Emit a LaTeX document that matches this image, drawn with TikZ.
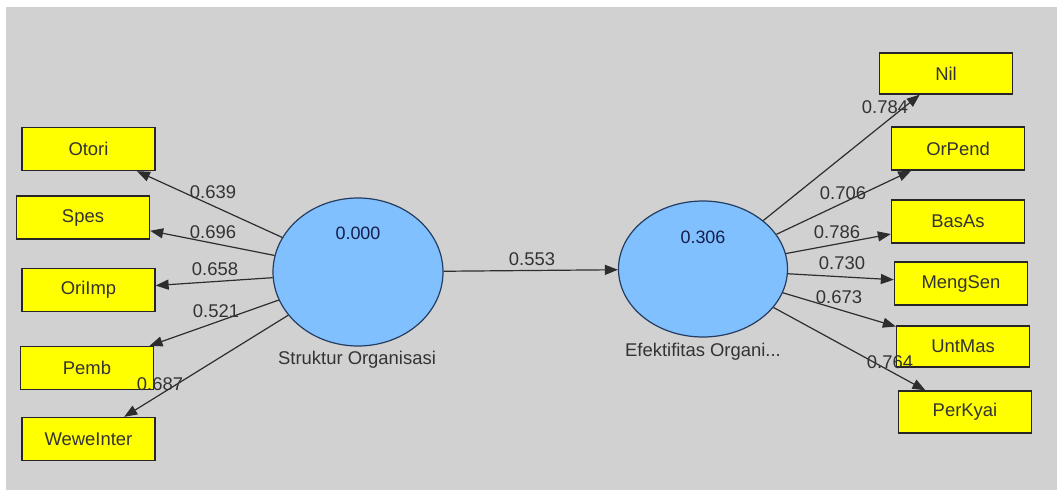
\documentclass[tikz,border=0pt]{standalone}
\usepackage{fontspec}
\setmainfont{Liberation Sans}
\usetikzlibrary{shapes.geometric,arrows.meta}
\definecolor{bggray}{RGB}{209,209,209}
\definecolor{boxyellow}{RGB}{255,255,0}
\definecolor{ellblue}{RGB}{128,192,255}
\definecolor{ellborder}{RGB}{35,60,95}
\definecolor{valnavy}{RGB}{20,30,75}
\definecolor{linegray}{RGB}{45,45,45}
\tikzset{
  indbox/.style={draw=black!85, line width=1.3bp, fill=boxyellow, minimum width=133bp, minimum height=43bp, inner sep=0pt, text=black!80, font=\fontsize{18.5}{20}\selectfont},
  construct/.style={ellipse, draw=ellborder, line width=1.2bp, fill=ellblue, inner sep=0pt},
  loadarrow/.style={draw=linegray, line width=1.2bp, -{Triangle[length=13bp,width=10bp]}},
  coef/.style={font=\fontsize{18.5}{20}\selectfont, text=black!80, inner sep=0pt},
  valtext/.style={font=\fontsize{18}{20}\selectfont, text=valnavy, inner sep=0pt},
  captext/.style={font=\fontsize{18.5}{20}\selectfont, text=black!80, inner sep=0pt}
}
\begin{document}
\begin{tikzpicture}[x=1bp,y=-1bp]
\useasboundingbox (0,0) rectangle (1057,490);
\fill[bggray] (6,7) rectangle (1057,490);
% constructs
\node[construct, minimum width=170bp, minimum height=148bp] (so) at (358,272) {};
\node[construct, minimum width=169bp, minimum height=136bp] (eo) at (703,269) {};
\node[valtext] (soval) at (358,233) {0.000};
\node[valtext] (eoval) at (703,237) {0.306};
\node[captext] (socap) at (357,360) {Struktur Organisasi};
\node[captext] (eocap) at (703,352) {Efektifitas Organi...};
% indicators left
\node[indbox] (otori) at (88.5,149) {Otori};
\node[indbox] (spes) at (83,217.5) {Spes};
\node[indbox] (oriimp) at (88.5,290) {OriImp};
\node[indbox] (pemb) at (87,368) {Pemb};
\node[indbox] (wewe) at (88.5,439) {WeweInter};
% indicators right
\node[indbox, minimum height=41bp] (nil) at (946,73.5) {Nil};
\node[indbox] (orpend) at (958,148.5) {OrPend};
\node[indbox] (basas) at (958,221.5) {BasAs};
\node[indbox] (mengsen) at (961,283.5) {MengSen};
\node[indbox, minimum height=41bp] (untmas) at (963,346.5) {UntMas};
\node[indbox, minimum height=42bp] (perkyai) at (965,412) {PerKyai};
% arrows
\draw[loadarrow] (so) -- (otori);
\draw[loadarrow] (so) -- (spes);
\draw[loadarrow] (so) -- (oriimp);
\draw[loadarrow] (so) -- (pemb);
\draw[loadarrow] (so) -- (wewe);
\draw[loadarrow] (so) -- (eo);
\draw[loadarrow] (eo) -- (nil);
\draw[loadarrow] (eo) -- (orpend);
\draw[loadarrow] (eo) -- (basas);
\draw[loadarrow] (eo) -- (mengsen);
\draw[loadarrow] (eo) -- (untmas);
\draw[loadarrow] (eo) -- (perkyai);
% coefficients
\node[coef] (c1) at (213,192) {0.639};
\node[coef] (c2) at (213,232) {0.696};
\node[coef] (c3) at (215,269) {0.658};
\node[coef] (c4) at (216,311) {0.521};
\node[coef] (c5) at (160,384) {0.687};
\node[coef] (c6) at (532,259) {0.553};
\node[coef] (c7) at (885,107) {0.784};
\node[coef] (c8) at (843,193) {0.706};
\node[coef] (c9) at (837,232) {0.786};
\node[coef] (c10) at (842,263) {0.730};
\node[coef] (c11) at (839,297) {0.673};
\node[coef] (c12) at (890,362) {0.764};
\end{tikzpicture}
\end{document}
